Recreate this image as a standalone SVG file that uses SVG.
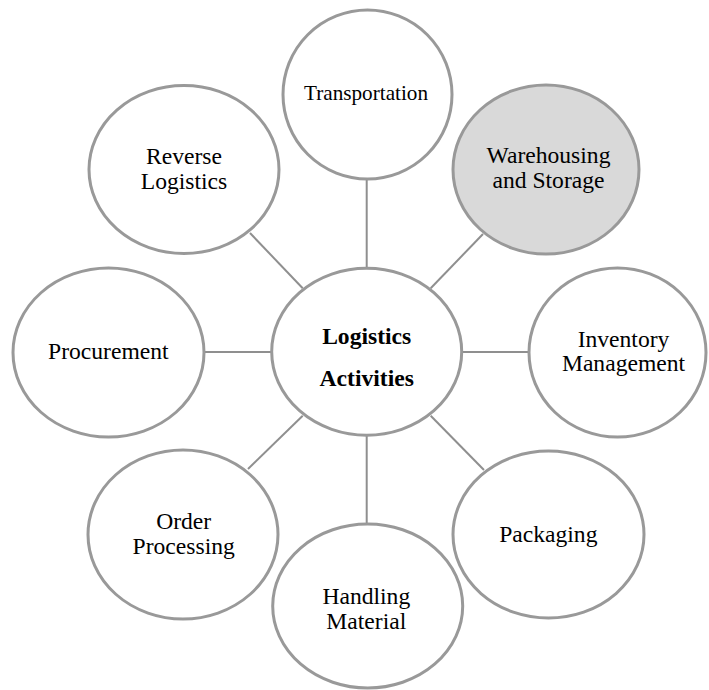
<svg xmlns="http://www.w3.org/2000/svg" width="709" height="690" viewBox="0 0 709 690">
  <style>
    .node { fill: #ffffff; stroke: #999999; stroke-width: 3; }
    .node.shaded { fill: #d9d9d9; }
    .link { stroke: #8f8f8f; stroke-width: 2; fill: none; }
    .lbl { font-family: "Liberation Serif", "Times New Roman", serif; font-size: 23.6px; fill: #000000; text-anchor: middle; }
    .lbl.small { font-size: 21.2px; }
    .lbl.bold { font-weight: bold; }
  </style>
  <rect width="709" height="690" fill="#ffffff"/>

  <!-- spokes from the hub to each activity -->
  <g id="connectors">
    <line class="link" x1="366.7" y1="179" x2="366.7" y2="268"/>
    <line class="link" x1="483" y1="234" x2="430.7" y2="288.3"/>
    <line class="link" x1="462" y1="352" x2="529" y2="352"/>
    <line class="link" x1="484" y1="470" x2="430.7" y2="415.7"/>
    <line class="link" x1="366.7" y1="435" x2="366.7" y2="525"/>
    <line class="link" x1="248" y1="469" x2="302.7" y2="415.7"/>
    <line class="link" x1="204" y1="352" x2="272" y2="352"/>
    <line class="link" x1="250" y1="233" x2="302.7" y2="288.3"/>
  </g>

  <g id="hub">
    <ellipse class="node" cx="366.7" cy="351.7" rx="95" ry="83.5"/>
    <text class="lbl bold" x="366.7" y="344.3">Logistics</text>
    <text class="lbl bold" x="366.7" y="385.7">Activities</text>
  </g>

  <g id="transportation">
    <ellipse class="node" cx="367.5" cy="94.5" rx="84.5" ry="84.5"/>
    <text class="lbl small" x="366" y="100">Transportation</text>
  </g>

  <g id="warehousing">
    <ellipse class="node shaded" cx="546" cy="169.5" rx="93" ry="84.5"/>
    <text class="lbl" x="548.5" y="163">Warehousing</text>
    <text class="lbl" x="548.5" y="188">and Storage</text>
  </g>

  <g id="inventory">
    <ellipse class="node" cx="617.5" cy="352.5" rx="88.5" ry="84.5"/>
    <text class="lbl" x="623.5" y="346.7">Inventory</text>
    <text class="lbl" x="623.5" y="371">Management</text>
  </g>

  <g id="packaging">
    <ellipse class="node" cx="548.5" cy="534.5" rx="95.5" ry="83.5"/>
    <text class="lbl" x="548.3" y="541.7">Packaging</text>
  </g>

  <g id="handling">
    <ellipse class="node" cx="367.7" cy="606" rx="95" ry="82"/>
    <text class="lbl" x="366.3" y="604.3">Handling</text>
    <text class="lbl" x="366.3" y="629">Material</text>
  </g>

  <g id="order-processing">
    <ellipse class="node" cx="183" cy="534.5" rx="95" ry="84.5"/>
    <text class="lbl" x="183.7" y="529.3">Order</text>
    <text class="lbl" x="183.7" y="554.3">Processing</text>
  </g>

  <g id="procurement">
    <ellipse class="node" cx="108.5" cy="352.5" rx="95.5" ry="84.5"/>
    <text class="lbl" x="108.3" y="359">Procurement</text>
  </g>

  <g id="reverse-logistics">
    <ellipse class="node" cx="184" cy="169.5" rx="95" ry="84"/>
    <text class="lbl" x="184" y="164">Reverse</text>
    <text class="lbl" x="184" y="189">Logistics</text>
  </g>
</svg>
